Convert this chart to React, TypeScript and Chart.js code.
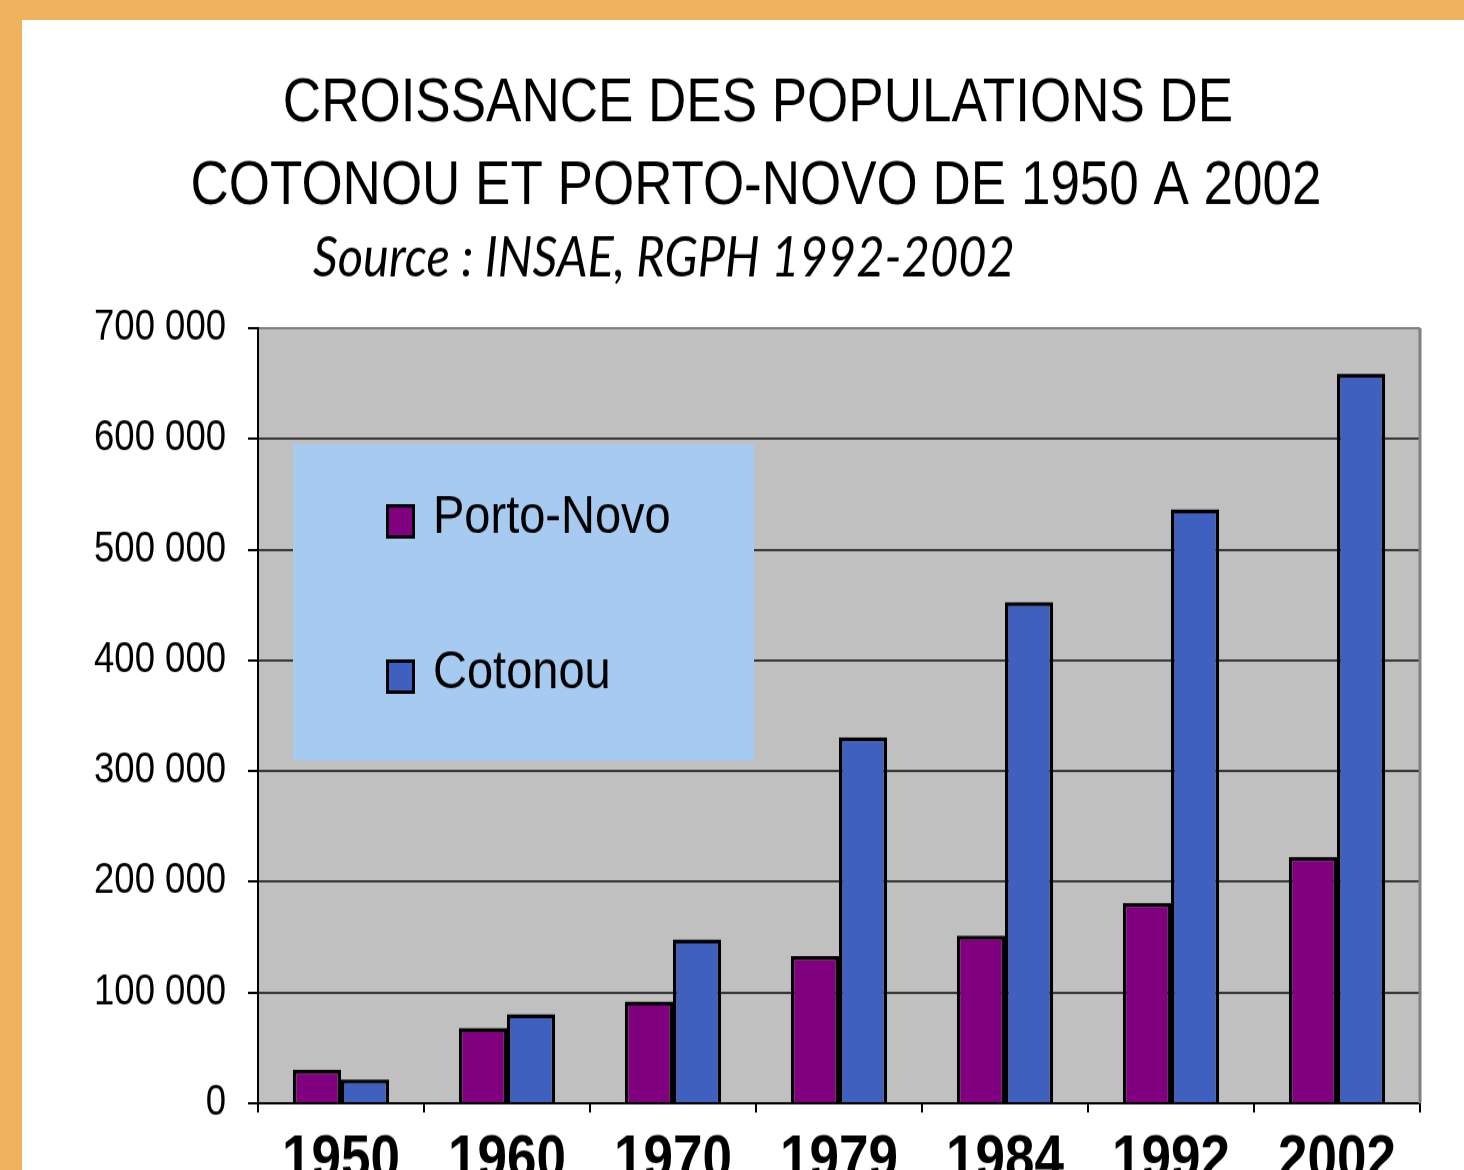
import React, { useEffect, useRef } from 'react';
import { Chart, registerables } from 'chart.js';

Chart.register(...registerables);

// ---------- data ----------
const TITLE_LINES = ['CROISSANCE DES POPULATIONS DE', 'COTONOU ET PORTO-NOVO DE 1950 A 2002'];
const SOURCE_TEXT = 'Source : INSAE, RGPH 1992-2002';
const YEARS = ['1950', '1960', '1970', '1979', '1984', '1992', '2002'];
const SERIES_NAMES = ['Porto-Novo', 'Cotonou'];
const PORTO_NOVO = [30500, 68000, 92000, 133000, 151500, 181000, 222500];
const COTONOU = [21500, 80500, 148000, 330500, 452500, 536500, 659000];
const Y_MIN = 0;
const Y_MAX = 700000;
const Y_STEP = 100000;

// ---------- style ----------
const ORANGE = '#EFB35D';
const PURPLE = '#800080';
const BLUE = '#4060C0';
const PLOT_BG = '#C0C0C0';
const LEGEND_BG = '#A6CAF0';
const FONT = "'Liberation Sans', Arial, Helvetica, sans-serif";

// canvas is drawn at W x H and shown stretched to W x CSS_H (reference is vertically stretched)
const W = 1442;
const H = 1000;
const CSS_H = 1150;

const fmt = (v: number) => String(v).replace(/\B(?=(\d{3})+(?!\d))/g, ' ');

const bgPlugin = {
  id: 'plotBg',
  beforeDraw(chart: any) {
    const { ctx, chartArea: a } = chart;
    ctx.save();
    ctx.fillStyle = PLOT_BG;
    ctx.fillRect(a.left, a.top, a.right - a.left, a.bottom - a.top);
    ctx.restore();
  },
  afterDraw(chart: any) {
    const { ctx, chartArea: a } = chart;
    ctx.save();
    ctx.strokeStyle = '#808080';
    ctx.lineWidth = 3;
    ctx.beginPath();
    ctx.moveTo(a.right, a.top);
    ctx.lineTo(a.right, a.bottom);
    ctx.stroke();
    ctx.restore();
  },
};

const legendPlugin = {
  id: 'boxLegend',
  beforeDatasetsDraw(chart: any) {
    const { ctx } = chart;
    ctx.save();
    ctx.fillStyle = LEGEND_BG;
    ctx.fillRect(271, 369, 461, 275);
    const rows = [436, 571];
    chart.data.datasets.forEach((ds: any, i: number) => {
      const cy = rows[i];
      ctx.fillStyle = ds.backgroundColor;
      ctx.fillRect(364, cy - 15, 29, 30);
      ctx.strokeStyle = '#000';
      ctx.lineWidth = 3;
      ctx.strokeRect(365.5, cy - 13.5, 26, 27);
      ctx.fillStyle = '#000';
      ctx.font = `47px ${FONT}`;
      ctx.textAlign = 'left';
      ctx.textBaseline = 'middle';
      ctx.fillText(ds.label, 411, cy - 3);
    });
    ctx.restore();
  },
};

const titlePlugin = {
  id: 'titles',
  afterDraw(chart: any) {
    const { ctx } = chart;
    ctx.save();
    ctx.fillStyle = '#000';
    ctx.textAlign = 'center';
    ctx.textBaseline = 'middle';
    ctx.font = `53px ${FONT}`;
    ctx.fillText(TITLE_LINES[0], 736, 73);
    ctx.fillText(TITLE_LINES[1], 734, 145.5);
    const fam = "Lato, 'Open Sans', 'DejaVu Sans', sans-serif";
    ctx.font = `italic 40px ${fam}`;
    const w = ctx.measureText(SOURCE_TEXT).width;
    const size = (40 * 702) / w;
    ctx.font = `italic ${size}px ${fam}`;
    ctx.fillText(SOURCE_TEXT, 642, 207.5);
    ctx.restore();
  },
};

export default function App() {
  const ref = useRef<HTMLCanvasElement | null>(null);

  useEffect(() => {
    if (!ref.current) return;
    const chart = new Chart(ref.current, {
      type: 'bar',
      data: {
        labels: YEARS,
        datasets: [
          {
            label: SERIES_NAMES[0],
            data: PORTO_NOVO,
            backgroundColor: PURPLE,
            borderColor: '#000',
            borderWidth: 3.5,
            categoryPercentage: 0.58,
            barPercentage: 1,
          },
          {
            label: SERIES_NAMES[1],
            data: COTONOU,
            backgroundColor: BLUE,
            borderColor: '#000',
            borderWidth: 3.5,
            categoryPercentage: 0.58,
            barPercentage: 1,
          },
        ],
      },
      options: {
        responsive: false,
        animation: false,
        devicePixelRatio: 1,
        layout: { padding: { top: 268, right: 44, left: 0, bottom: 0 } },
        plugins: {
          legend: { display: false },
          title: { display: false },
          tooltip: { enabled: false },
        },
        scales: {
          x: {
            grid: {
              offset: true,
              drawOnChartArea: false,
              color: '#000',
              lineWidth: 2,
              tickLength: 8,
            },
            border: { color: '#000', width: 2 },
            ticks: {
              color: '#000',
              font: { family: FONT, size: 53, weight: 'bold' },
              padding: 11,
              maxRotation: 0,
              autoSkip: false,
            },
            afterFit: (s: any) => {
              s.height = H - 942;
            },
          },
          y: {
            min: Y_MIN,
            max: Y_MAX,
            ticks: {
              stepSize: Y_STEP,
              color: '#000',
              font: { family: FONT, size: 36.5 },
              padding: 22,
              callback: (v: any) => fmt(Number(v)),
            },
            grid: {
              color: (c: any) => (c.tick && c.tick.value === Y_MAX ? '#808080' : '#383838'),
              lineWidth: 2,
              tickLength: 10,
              tickColor: '#000',
            },
            border: { color: '#000', width: 2 },
            afterFit: (s: any) => {
              s.width = 236;
            },
          },
        },
      } as any,
      plugins: [bgPlugin, legendPlugin, titlePlugin],
    });
    return () => chart.destroy();
  }, []);

  return (
    <div
      style={{
        position: 'fixed',
        left: 0,
        top: 0,
        width: 1464,
        height: 1170,
        background: ORANGE,
        overflow: 'hidden',
      }}
    >
      <canvas
        ref={ref}
        width={W}
        height={H}
        style={{
          position: 'absolute',
          left: 22,
          top: 20,
          width: `${W}px`,
          height: `${CSS_H}px`,
          background: '#fff',
          display: 'block',
        }}
      />
    </div>
  );
}
